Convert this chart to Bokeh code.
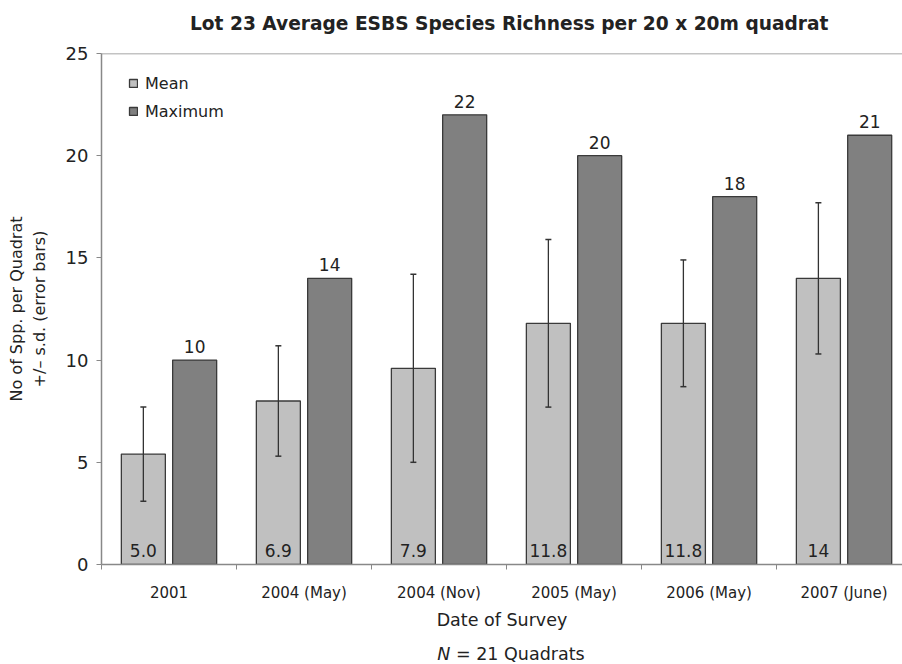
from bokeh.plotting import figure
from bokeh.layouts import column
from bokeh.models import (Range1d, FixedTicker, ColumnDataSource, Whisker, TeeHead,
                          Span, Legend, LegendItem, Div)
from bokeh.core.properties import value
from bokeh.embed import file_html
from bokeh.resources import INLINE

# ---- data ----
title_text = "Lot 23 Average ESBS Species Richness per 20 x 20m quadrat"
categories = ["2001", "2004 (May)", "2004 (Nov)", "2005 (May)", "2006 (May)", "2007 (June)"]
mean_values = [5.4, 8.0, 9.6, 11.8, 11.8, 14.0]
mean_sd = [2.3, 2.7, 4.6, 4.1, 3.1, 3.7]
mean_labels = ["5.0", "6.9", "7.9", "11.8", "11.8", "14"]
max_values = [10, 14, 22, 20, 18, 21]
max_labels = ["10", "14", "22", "20", "18", "21"]

FONT = "DejaVu Sans"
n = len(categories)
centers = [i + 0.5 for i in range(n)]
off = 0.19
bw = 0.326
mean_x = [c - off for c in centers]
max_x = [c + off for c in centers]

src = ColumnDataSource(dict(
    mx=mean_x, xx=max_x, mean=mean_values, mx_top=max_values,
    upper=[m + s for m, s in zip(mean_values, mean_sd)],
    lower=[m - s for m, s in zip(mean_values, mean_sd)],
    mlab=mean_labels, xlab=max_labels, zero=[0] * n,
))

head = Div(text=title_text, width=712, height=44, margin=(0, 0, 0, 190),
           styles={"font-family": FONT, "font-size": "18.6px", "font-weight": "bold",
                   "color": "#222222", "line-height": "40px", "padding-top": "4px",
                   "white-space": "nowrap"})

p = figure(width=902, height=592, output_backend="svg", toolbar_location=None,
           x_range=Range1d(0, 5.933), y_range=Range1d(0, 25),
           min_border_left=101, min_border_right=0, min_border_top=9, min_border_bottom=72)

p.outline_line_color = None
p.xgrid.visible = False
p.ygrid.visible = False
p.background_fill_color = "white"

r_mean = p.vbar(x="mx", top="mean", width=bw, source=src, fill_color="#c0c0c0",
                line_color="#3a3a3a", line_width=1.3)
r_max = p.vbar(x="xx", top="mx_top", width=bw, source=src, fill_color="#808080",
               line_color="#3a3a3a", line_width=1.3)

wh = Whisker(base="mx", upper="upper", lower="lower", source=src, level="overlay",
             line_color="#333333", line_width=1.3,
             upper_head=TeeHead(size=6, line_color="#333333", line_width=1.5),
             lower_head=TeeHead(size=6, line_color="#333333", line_width=1.5))
p.add_layout(wh)

p.text(x="xx", y="mx_top", text="xlab", source=src, text_align="center",
       text_baseline="bottom", y_offset=-7, text_font=value(FONT),
       text_font_size="17px", text_color="#222222")
p.text(x="mx", y="zero", text="mlab", source=src, text_align="center",
       text_baseline="bottom", y_offset=-8, text_font=value(FONT),
       text_font_size="17px", text_color="#222222")

# top frame line
p.add_layout(Span(location=25, dimension="width", line_color="#888888", line_width=1.5))

# y axis
ya = p.yaxis[0]
ya.ticker = FixedTicker(ticks=[0, 5, 10, 15, 20, 25])
ya.axis_line_color = "#888888"
ya.axis_line_width = 1.5
ya.major_tick_line_color = "#888888"
ya.major_tick_out = 5
ya.major_tick_in = 0
ya.minor_tick_line_color = None
ya.major_label_text_font = FONT
ya.major_label_text_font_size = "18px"
ya.major_label_text_color = "#222222"
ya.major_label_standoff = 8
ya.axis_label = "No of Spp. per Quadrat\n+/\u2013 s.d. (error bars)"
ya.axis_label_text_font = FONT
ya.axis_label_text_font_size = "16px"
ya.axis_label_text_font_style = "normal"
ya.axis_label_text_color = "#222222"
ya.axis_label_standoff = 14

# x axis
xa = p.xaxis[0]
xa.ticker = FixedTicker(ticks=centers, minor_ticks=list(range(n + 1)))
xa.major_label_overrides = {c: lab for c, lab in zip(centers, categories)}
xa.axis_line_color = "#888888"
xa.axis_line_width = 1.5
xa.major_tick_line_color = None
xa.major_tick_out = 0
xa.major_tick_in = 0
xa.minor_tick_line_color = "#888888"
xa.minor_tick_out = 5
xa.minor_tick_in = 0
xa.major_label_text_font = FONT
xa.major_label_text_font_size = "15px"
xa.major_label_text_color = "#222222"
xa.major_label_standoff = 14
xa.axis_label = "Date of Survey"
xa.axis_label_text_font = FONT
xa.axis_label_text_font_size = "17.5px"
xa.axis_label_text_font_style = "normal"
xa.axis_label_text_color = "#222222"
xa.axis_label_standoff = 5

legend = Legend(items=[LegendItem(label="Mean", renderers=[r_mean]),
                       LegendItem(label="Maximum", renderers=[r_max])],
                location=(27, 443), padding=10, spacing=8, margin=0,
                glyph_width=10, glyph_height=10, label_height=20, label_standoff=7,
                label_text_font=FONT, label_text_font_size="16px",
                label_text_color="#222222", border_line_color=None,
                background_fill_alpha=0)
p.add_layout(legend)

note = Div(text="<i>N</i> = 21 Quadrats", width=782, height=28, margin=(0, 0, 0, 120),
           styles={"font-family": FONT, "font-size": "17.5px", "color": "#222222",
                   "text-align": "center", "line-height": "20px", "padding-top": "8px"})

layout = column(head, p, note, spacing=0)

open("out.html", "w").write(file_html(layout, INLINE))
